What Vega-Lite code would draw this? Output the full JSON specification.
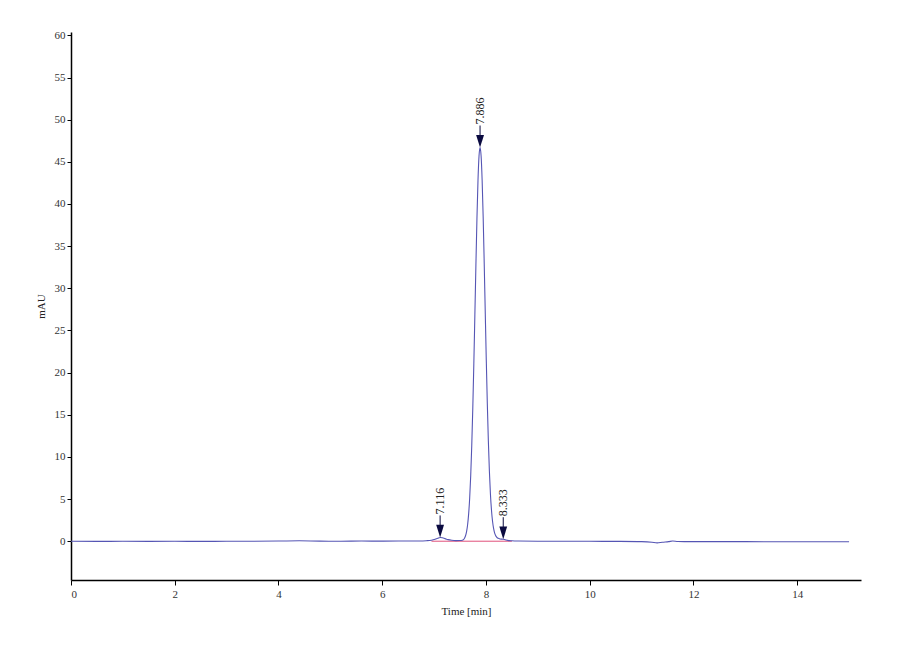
{
  "$schema": "https://vega.github.io/schema/vega-lite/v6.json",
  "autosize": "none",
  "width": 790,
  "height": 548,
  "padding": {"left": 71, "top": 32, "right": 39, "bottom": 80},
  "background": "white",
  "config": {"view": {"stroke": null}, "font": "Liberation Serif"},
  "datasets": {
    "signal": [
      {"time": 0, "mau": 0.0}, {"time": 0.5, "mau": -0.02}, {"time": 1, "mau": -0.01}, {"time": 1.5, "mau": -0.02},
      {"time": 2, "mau": -0.01}, {"time": 2.5, "mau": -0.02}, {"time": 3, "mau": -0.01}, {"time": 3.5, "mau": 0.0},
      {"time": 4, "mau": 0.02}, {"time": 4.4, "mau": 0.05}, {"time": 4.8, "mau": 0.01}, {"time": 5.2, "mau": 0.0},
      {"time": 5.6, "mau": 0.02}, {"time": 6, "mau": 0.01}, {"time": 6.4, "mau": 0.02}, {"time": 6.7, "mau": 0.03},
      {"time": 6.85, "mau": 0.06}, {"time": 6.95, "mau": 0.12}, {"time": 7.02, "mau": 0.24}, {"time": 7.07, "mau": 0.36},
      {"time": 7.116, "mau": 0.45}, {"time": 7.16, "mau": 0.41}, {"time": 7.21, "mau": 0.31}, {"time": 7.27, "mau": 0.19},
      {"time": 7.34, "mau": 0.11}, {"time": 7.42, "mau": 0.07}, {"time": 7.49, "mau": 0.08}, {"time": 7.546, "mau": 0.12},
      {"time": 7.566, "mau": 0.2}, {"time": 7.586, "mau": 0.36}, {"time": 7.606, "mau": 0.65}, {"time": 7.626, "mau": 1.14},
      {"time": 7.646, "mau": 1.96}, {"time": 7.666, "mau": 3.24}, {"time": 7.686, "mau": 5.13}, {"time": 7.706, "mau": 7.79},
      {"time": 7.726, "mau": 11.35}, {"time": 7.746, "mau": 15.8}, {"time": 7.766, "mau": 21.05}, {"time": 7.786, "mau": 26.86},
      {"time": 7.806, "mau": 32.76}, {"time": 7.826, "mau": 38.27}, {"time": 7.846, "mau": 42.75}, {"time": 7.866, "mau": 45.69},
      {"time": 7.886, "mau": 46.7}, {"time": 7.906, "mau": 45.72}, {"time": 7.926, "mau": 42.85}, {"time": 7.946, "mau": 38.45},
      {"time": 7.966, "mau": 33.0}, {"time": 7.986, "mau": 27.2}, {"time": 8.006, "mau": 21.5}, {"time": 8.026, "mau": 16.3},
      {"time": 8.046, "mau": 11.9}, {"time": 8.066, "mau": 8.3}, {"time": 8.086, "mau": 5.6}, {"time": 8.106, "mau": 3.7},
      {"time": 8.126, "mau": 2.4}, {"time": 8.146, "mau": 1.55}, {"time": 8.166, "mau": 1.0}, {"time": 8.186, "mau": 0.68},
      {"time": 8.206, "mau": 0.48}, {"time": 8.236, "mau": 0.34}, {"time": 8.27, "mau": 0.27}, {"time": 8.3, "mau": 0.25},
      {"time": 8.333, "mau": 0.24}, {"time": 8.37, "mau": 0.18}, {"time": 8.42, "mau": 0.1}, {"time": 8.5, "mau": 0.05},
      {"time": 8.6, "mau": 0.02}, {"time": 9, "mau": 0.0}, {"time": 9.5, "mau": 0.0}, {"time": 10, "mau": -0.01},
      {"time": 10.5, "mau": -0.02}, {"time": 11, "mau": -0.05}, {"time": 11.2, "mau": -0.12}, {"time": 11.3, "mau": -0.2},
      {"time": 11.4, "mau": -0.12}, {"time": 11.52, "mau": -0.05}, {"time": 11.6, "mau": 0.02}, {"time": 11.7, "mau": -0.04},
      {"time": 12, "mau": -0.05}, {"time": 12.5, "mau": -0.05}, {"time": 13, "mau": -0.05}, {"time": 13.5, "mau": -0.06},
      {"time": 14, "mau": -0.06}, {"time": 14.5, "mau": -0.06}, {"time": 15, "mau": -0.06}
    ],
    "baseline": [
      {"time": 6.95, "mau": 0.0},
      {"time": 8.5, "mau": 0.0}
    ],
    "peaks": [
      {"time": 7.116, "mau": 0.45, "label": "7.116"},
      {"time": 7.886, "mau": 46.7, "label": "7.886"},
      {"time": 8.333, "mau": 0.24, "label": "8.333"}
    ]
  },
  "encoding": {
    "x": {
      "field": "time", "type": "quantitative",
      "scale": {"domain": [0, 15.23], "nice": false, "zero": false},
      "axis": {
        "title": "Time [min]", "values": [0, 2, 4, 6, 8, 10, 12, 14], "format": "d",
        "grid": false, "domainColor": "black", "domainWidth": 1.5, "tickColor": "black", "tickSize": 5,
        "labelFont": "Liberation Serif", "labelFontSize": 11, "labelColor": "#333",
        "titleFont": "Liberation Serif", "titleFontSize": 11, "titleFontWeight": "normal", "titleColor": "#222",
        "titlePadding": 6, "labelPadding": 3
      }
    },
    "y": {
      "field": "mau", "type": "quantitative",
      "scale": {"domain": [-4.6, 60.4], "nice": false, "zero": false},
      "axis": {
        "title": "mAU", "values": [0, 5, 10, 15, 20, 25, 30, 35, 40, 45, 50, 55, 60], "format": "d",
        "grid": false, "domainColor": "black", "domainWidth": 1.5, "tickColor": "black", "tickSize": 4,
        "labelFont": "Liberation Serif", "labelFontSize": 11, "labelColor": "#333",
        "titleFont": "Liberation Serif", "titleFontSize": 11, "titleFontWeight": "normal", "titleColor": "#222",
        "titlePadding": 8, "labelPadding": 2
      }
    }
  },
  "layer": [
    {
      "data": {"name": "baseline"},
      "mark": {"type": "line", "color": "#e0507a", "strokeWidth": 1}
    },
    {
      "data": {"name": "signal"},
      "mark": {"type": "line", "color": "#5555b4", "strokeWidth": 1.1, "interpolate": "monotone"}
    },
    {
      "data": {"name": "peaks"},
      "mark": {"type": "rule", "color": "#0a0a40", "strokeWidth": 1, "yOffset": -12, "y2Offset": -22},
      "encoding": {"y2": {"field": "mau"}}
    },
    {
      "data": {"name": "peaks"},
      "mark": {"type": "point", "shape": "M-0.62,-1L0.62,-1L0,1Z", "filled": true, "color": "#0a0a40", "size": 160, "opacity": 1, "yOffset": -6.3}
    },
    {
      "data": {"name": "peaks"},
      "mark": {"type": "text", "angle": 270, "align": "left", "baseline": "middle", "font": "Liberation Serif", "fontSize": 12, "color": "#222", "yOffset": -23},
      "encoding": {"text": {"field": "label"}}
    }
  ]
}
